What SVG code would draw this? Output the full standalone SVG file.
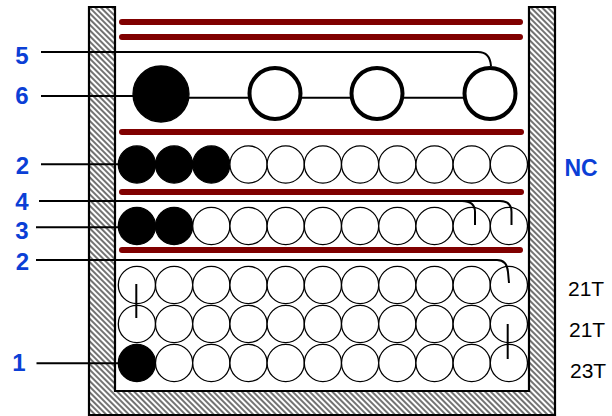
<svg xmlns="http://www.w3.org/2000/svg" width="612" height="416" viewBox="0 0 612 416">
  <defs>
    <pattern id="hatch" width="4" height="4" patternUnits="userSpaceOnUse" patternTransform="rotate(45)">
      <rect width="4" height="4" fill="#fff"/>
      <line x1="0" y1="2" x2="4" y2="2" stroke="#000" stroke-width="1.1"/>
    </pattern>
  </defs>
  <style>
    .bar{stroke:#800000;stroke-width:6;stroke-linecap:round;fill:none}
    .ln{stroke:#000;stroke-width:2;fill:none}
    .sc{fill:#fff;stroke:#000;stroke-width:1.3}
    .sb{fill:#000;stroke:#000;stroke-width:1.3}
    .bc{fill:#fff;stroke:#000;stroke-width:4}
    .lbl{font-family:"Liberation Sans",Arial,sans-serif;font-weight:bold;font-size:24px;fill:#0B3FD6;text-anchor:middle}
    .tl{font-family:"Liberation Sans",Arial,sans-serif;font-size:21px;fill:#000}
  </style>
  <rect width="612" height="416" fill="#fff"/>
  <g id="container">
    <path d="M89,7 V415 H555 V7 H529 V391 H115 V7 Z" fill="url(#hatch)" stroke="#000" stroke-width="2.2"/>
  </g>
  <g id="bars">
    <line class="bar" x1="122" y1="22" x2="520" y2="22"/>
    <line class="bar" x1="122" y1="37" x2="520" y2="37"/>
    <line class="bar" x1="122" y1="132" x2="521" y2="132"/>
    <line class="bar" x1="122" y1="192" x2="521" y2="192"/>
    <line class="bar" x1="122" y1="250" x2="520" y2="250"/>
  </g>
  <g id="big-row">
    <circle class="sb" cx="161" cy="94" r="28"/>
    <circle class="bc" cx="275" cy="93.5" r="25.5"/>
    <circle class="bc" cx="377" cy="93.5" r="25.5"/>
    <circle class="bc" cx="490" cy="93.5" r="25.5"/>
  </g>
  <g id="row-a">
    <circle class="sb" cx="136.9" cy="164.5" r="18.6"/>
    <circle class="sb" cx="174.1" cy="164.5" r="18.6"/>
    <circle class="sb" cx="211.3" cy="164.5" r="18.6"/>
    <circle class="sc" cx="248.5" cy="164.5" r="18.6"/>
    <circle class="sc" cx="285.7" cy="164.5" r="18.6"/>
    <circle class="sc" cx="322.9" cy="164.5" r="18.6"/>
    <circle class="sc" cx="360.1" cy="164.5" r="18.6"/>
    <circle class="sc" cx="397.3" cy="164.5" r="18.6"/>
    <circle class="sc" cx="434.5" cy="164.5" r="18.6"/>
    <circle class="sc" cx="471.7" cy="164.5" r="18.6"/>
    <circle class="sc" cx="508.9" cy="164.5" r="18.6"/>
  </g>
  <g id="row-b">
    <circle class="sb" cx="136.9" cy="226" r="18.6"/>
    <circle class="sb" cx="174.1" cy="226" r="18.6"/>
    <circle class="sc" cx="211.3" cy="226" r="18.6"/>
    <circle class="sc" cx="248.5" cy="226" r="18.6"/>
    <circle class="sc" cx="285.7" cy="226" r="18.6"/>
    <circle class="sc" cx="322.9" cy="226" r="18.6"/>
    <circle class="sc" cx="360.1" cy="226" r="18.6"/>
    <circle class="sc" cx="397.3" cy="226" r="18.6"/>
    <circle class="sc" cx="434.5" cy="226" r="18.6"/>
    <circle class="sc" cx="471.7" cy="226" r="18.6"/>
    <circle class="sc" cx="508.9" cy="226" r="18.6"/>
  </g>
  <g id="row-c">
    <circle class="sc" cx="136.9" cy="285" r="18.6"/>
    <circle class="sc" cx="174.1" cy="285" r="18.6"/>
    <circle class="sc" cx="211.3" cy="285" r="18.6"/>
    <circle class="sc" cx="248.5" cy="285" r="18.6"/>
    <circle class="sc" cx="285.7" cy="285" r="18.6"/>
    <circle class="sc" cx="322.9" cy="285" r="18.6"/>
    <circle class="sc" cx="360.1" cy="285" r="18.6"/>
    <circle class="sc" cx="397.3" cy="285" r="18.6"/>
    <circle class="sc" cx="434.5" cy="285" r="18.6"/>
    <circle class="sc" cx="471.7" cy="285" r="18.6"/>
    <circle class="sc" cx="508.9" cy="285" r="18.6"/>
  </g>
  <g id="row-d">
    <circle class="sc" cx="136.9" cy="324" r="18.6"/>
    <circle class="sc" cx="174.1" cy="324" r="18.6"/>
    <circle class="sc" cx="211.3" cy="324" r="18.6"/>
    <circle class="sc" cx="248.5" cy="324" r="18.6"/>
    <circle class="sc" cx="285.7" cy="324" r="18.6"/>
    <circle class="sc" cx="322.9" cy="324" r="18.6"/>
    <circle class="sc" cx="360.1" cy="324" r="18.6"/>
    <circle class="sc" cx="397.3" cy="324" r="18.6"/>
    <circle class="sc" cx="434.5" cy="324" r="18.6"/>
    <circle class="sc" cx="471.7" cy="324" r="18.6"/>
    <circle class="sc" cx="508.9" cy="324" r="18.6"/>
  </g>
  <g id="row-e">
    <circle class="sb" cx="136.9" cy="363" r="18.6"/>
    <circle class="sc" cx="174.1" cy="363" r="18.6"/>
    <circle class="sc" cx="211.3" cy="363" r="18.6"/>
    <circle class="sc" cx="248.5" cy="363" r="18.6"/>
    <circle class="sc" cx="285.7" cy="363" r="18.6"/>
    <circle class="sc" cx="322.9" cy="363" r="18.6"/>
    <circle class="sc" cx="360.1" cy="363" r="18.6"/>
    <circle class="sc" cx="397.3" cy="363" r="18.6"/>
    <circle class="sc" cx="434.5" cy="363" r="18.6"/>
    <circle class="sc" cx="471.7" cy="363" r="18.6"/>
    <circle class="sc" cx="508.9" cy="363" r="18.6"/>
  </g>
  <g id="connectors">
    <path class="ln" d="M41,52 H478 Q490,52 491,66"/>
    <line class="ln" x1="41" y1="96" x2="134" y2="96"/>
    <line class="ln" x1="189" y1="97.7" x2="248" y2="97.7"/>
    <line class="ln" x1="302" y1="97.7" x2="350" y2="97.7"/>
    <line class="ln" x1="404" y1="97.7" x2="463" y2="97.7"/>
    <line class="ln" x1="41" y1="164.3" x2="119" y2="164.3"/>
    <path class="ln" d="M39,201 H500 Q511.5,201 511.5,212 V225"/>
    <path class="ln" d="M462,201 Q475,201 475,212 V225"/>
    <line class="ln" x1="36" y1="227.3" x2="119" y2="227.3"/>
    <path class="ln" d="M36,260 H497 Q507,260 508,272 L509,283"/>
    <line class="ln" x1="136.3" y1="284" x2="136.3" y2="318"/>
    <line class="ln" x1="507.7" y1="324" x2="507.7" y2="359"/>
    <line class="ln" x1="36.5" y1="363.3" x2="119" y2="363.3"/>
  </g>
  <g id="labels">
    <text class="lbl" x="22" y="64">5</text>
    <text class="lbl" x="22" y="104">6</text>
    <text class="lbl" x="22.5" y="174">2</text>
    <text class="lbl" x="22" y="210">4</text>
    <text class="lbl" x="22" y="239">3</text>
    <text class="lbl" x="22.5" y="270">2</text>
    <text class="lbl" x="19" y="371">1</text>
    <text class="lbl" x="581" y="176" style="font-size:23px">NC</text>
    <text class="tl" x="568" y="296">21T</text>
    <text class="tl" x="569" y="337">21T</text>
    <text class="tl" x="570" y="377.5">23T</text>
  </g>
</svg>
